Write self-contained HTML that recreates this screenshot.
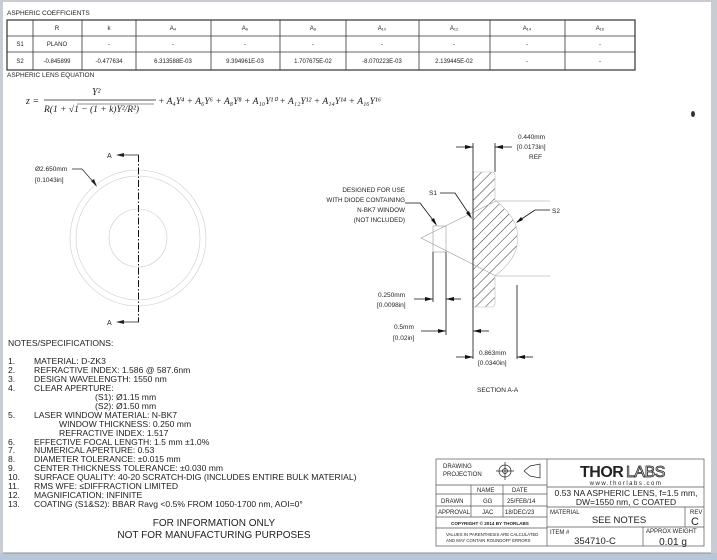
<!DOCTYPE html>
<html><head><meta charset="utf-8"><style>
html,body{margin:0;padding:0;background:#fff;}
svg{display:block;}
text{font-family:"Liberation Sans",sans-serif;fill:#222;}
.s{font-size:6px;}
.m{font-family:"Liberation Serif",serif;font-style:italic;font-size:10px;}
.n{font-size:8.6px;}
</style></head><body>
<svg width="717" height="560" viewBox="0 0 717 560" xmlns="http://www.w3.org/2000/svg">
<rect x="0" y="0" width="717" height="560" fill="#c9ccd2"/>
<rect x="3" y="2" width="708" height="551" fill="#fff"/>
<rect x="0" y="553" width="717" height="7" fill="#b9c6d8"/>
<line x1="3" y1="553" x2="711" y2="553" stroke="#8a8f99"/>
<!-- table -->
<text x="7" y="15" class="s" style="font-size:6.5px">ASPHERIC COEFFICIENTS</text>
<g stroke="#333" stroke-width="0.8" fill="none">
<rect x="7" y="20" width="628" height="50" stroke-width="1.2"/>
<line x1="7" y1="36" x2="635" y2="36"/><line x1="7" y1="52" x2="635" y2="52"/>
<line x1="33" y1="20" x2="33" y2="70"/><line x1="82" y1="20" x2="82" y2="70"/>
<line x1="136" y1="20" x2="136" y2="70"/><line x1="211" y1="20" x2="211" y2="70"/>
<line x1="280" y1="20" x2="280" y2="70"/><line x1="346" y1="20" x2="346" y2="70"/>
<line x1="419" y1="20" x2="419" y2="70"/><line x1="490" y1="20" x2="490" y2="70"/>
<line x1="565" y1="20" x2="565" y2="70"/>
</g>
<g class="s" text-anchor="middle" style="font-size:6px">
<text x="57" y="30">R</text><text x="109" y="30">k</text><text x="173" y="30">A₄</text><text x="245" y="30">A₆</text><text x="313" y="30">A₈</text><text x="382" y="30">A₁₀</text><text x="454" y="30">A₁₂</text><text x="527" y="30">A₁₄</text><text x="600" y="30">A₁₆</text>
<text x="20" y="46">S1</text><text x="57" y="46">PLANO</text><text x="109" y="46">-</text><text x="173" y="46">-</text><text x="245" y="46">-</text><text x="313" y="46">-</text><text x="382" y="46">-</text><text x="454" y="46">-</text><text x="527" y="46">-</text><text x="600" y="46">-</text>
<text x="20" y="63">S2</text><text x="57" y="63">-0.845899</text><text x="109" y="63">-0.477634</text><text x="173" y="63">6.313588E-03</text><text x="245" y="63">9.394961E-03</text><text x="313" y="63">1.707675E-02</text><text x="382" y="63">-8.070223E-03</text><text x="454" y="63">2.139445E-02</text><text x="527" y="63">-</text><text x="600" y="63">-</text>
</g>
<text x="7" y="77" class="s" style="font-size:6.5px">ASPHERIC LENS EQUATION</text>
<text x="26" y="104" class="m">z =</text>
<text x="92" y="95" class="m">Y²</text>
<line x1="44" y1="100" x2="156" y2="100" stroke="#222" stroke-width="0.7"/>
<text x="44" y="112" class="m" style="font-size:9.5px">R(1 + √1 − (1 + k)Y²/R²)</text>
<line x1="77" y1="104" x2="154" y2="104" stroke="#222" stroke-width="0.5"/>
<text x="158" y="104" class="m" style="font-size:9.5px">+ A₄Y⁴ + A₆Y⁶ + A₈Y⁸ + A₁₀Y¹⁰ + A₁₂Y¹² + A₁₄Y¹⁴ + A₁₆Y¹⁶</text>
<ellipse cx="693" cy="114" rx="2" ry="3" fill="#333"/>
<!-- front view -->
<g fill="none" stroke="#ccc" stroke-width="0.6">
<circle cx="138" cy="238" r="68"/><circle cx="138" cy="238" r="62"/><circle cx="138" cy="238" r="29"/>
</g>
<path d="M138.5,155 V322" stroke="#111" stroke-width="1" fill="none" stroke-dasharray="7,2,1.5,2"/>
<g stroke="#222" stroke-width="0.8"><line x1="122" y1="155" x2="139" y2="155"/><line x1="122" y1="322" x2="139" y2="322"/></g>
<polygon points="116,155 124,153 124,157" fill="#222"/><polygon points="116,322 124,320 124,324" fill="#222"/>
<text x="107" y="158" class="s" style="font-size:7px">A</text><text x="107" y="325" class="s" style="font-size:7px">A</text>
<text x="35" y="171" class="s" style="font-size:6.5px">Ø2.650mm</text><text x="35" y="182" class="s" style="font-size:6.5px">[0.1043in]</text>
<polyline points="72,169 82,169 96,185" fill="none" stroke="#222" stroke-width="0.7"/>
<polygon points="97,187 91,181 94,179" fill="#222"/>
<!-- section -->
<defs><pattern id="h" width="7" height="7" patternUnits="userSpaceOnUse" patternTransform="rotate(45)"><line x1="0" y1="0" x2="0" y2="7" stroke="#333" stroke-width="1"/></pattern></defs>
<path d="M473,172 L492,172 Q495,172 495,176 L495,200 Q520,220 517,238 Q520,256 495,276 L495,303 Q495,307 492,307 L473,307 Z" fill="url(#h)" stroke="#bbb" stroke-width="0.6"/>
<g fill="none" stroke="#999" stroke-width="0.6">
<rect x="433" y="226" width="13" height="26"/>
<polyline points="550,201 496,201 421,238 496,276 550,276"/>
</g>
<g stroke="#111" stroke-width="0.8" fill="none">
<line x1="473" y1="143" x2="473" y2="359"/><line x1="495" y1="143" x2="495" y2="172"/>
<line x1="433" y1="252" x2="433" y2="302"/><line x1="446" y1="252" x2="446" y2="335"/>
<line x1="517" y1="285" x2="517" y2="359"/>
<line x1="456" y1="147" x2="473" y2="147"/><line x1="495" y1="147" x2="512" y2="147"/>
<line x1="414" y1="299" x2="433" y2="299"/><line x1="446" y1="299" x2="461" y2="299"/>
<line x1="421" y1="331" x2="446" y2="331"/><line x1="473" y1="331" x2="489" y2="331"/>
<line x1="456" y1="357" x2="473" y2="357"/><line x1="517" y1="357" x2="533" y2="357"/>
<polyline points="440,193 455,193 471,217"/><polyline points="550,210 535,210 517,222"/>
<polyline points="405,203 420,203 436,224"/>
</g>
<g fill="#111">
<polygon points="473,147 465,145 465,149"/><polygon points="495,147 503,145 503,149"/>
<polygon points="433,299 425,297 425,301"/><polygon points="446,299 454,297 454,301"/>
<polygon points="446,331 438,329 438,333"/><polygon points="473,331 481,329 481,333"/>
<polygon points="473,357 465,355 465,359"/><polygon points="517,357 525,355 525,359"/>
<polygon points="472,219 466,213 469,211"/><polygon points="516,223 521,217 523,220"/>
<polygon points="437,226 431,220 434,218"/>
</g>
<g class="s" style="font-size:6.5px">
<text x="518" y="139">0.440mm</text><text x="517" y="149">[0.0173in]</text><text x="529" y="159">REF</text>
<text x="429" y="195">S1</text><text x="552" y="213">S2</text>
<text x="378" y="297">0.250mm</text><text x="377" y="307">[0.0098in]</text>
<text x="394" y="329">0.5mm</text><text x="393" y="340">[0.02in]</text>
<text x="479" y="355">0.863mm</text><text x="478" y="365">[0.0340in]</text>
<text x="477" y="392">SECTION A-A</text>
</g>
<g class="s" style="font-size:6.3px" text-anchor="end">
<text x="405" y="192">DESIGNED FOR USE</text><text x="405" y="202">WITH DIODE CONTAINING</text><text x="405" y="212">N-BK7 WINDOW</text><text x="405" y="222">(NOT INCLUDED)</text>
</g>
<!-- notes -->
<text x="8" y="346" class="n">NOTES/SPECIFICATIONS:</text>
<g class="n">
<text x="8" y="364">1.</text><text x="34" y="364">MATERIAL: D-ZK3</text>
<text x="8" y="373">2.</text><text x="34" y="373">REFRACTIVE INDEX: 1.586 @ 587.6nm</text>
<text x="8" y="382">3.</text><text x="34" y="382">DESIGN WAVELENGTH: 1550 nm</text>
<text x="8" y="391">4.</text><text x="34" y="391">CLEAR APERTURE:</text>
<text x="95" y="400">(S1): Ø1.15 mm</text><text x="95" y="409">(S2): Ø1.50 mm</text>
<text x="8" y="418">5.</text><text x="34" y="418">LASER WINDOW MATERIAL: N-BK7</text>
<text x="59" y="427">WINDOW THICKNESS: 0.250 mm</text><text x="59" y="436">REFRACTIVE INDEX: 1.517</text>
<text x="8" y="445">6.</text><text x="34" y="445">EFFECTIVE FOCAL LENGTH: 1.5 mm ±1.0%</text>
<text x="8" y="453">7.</text><text x="34" y="453">NUMERICAL APERTURE: 0.53</text>
<text x="8" y="462">8.</text><text x="34" y="462">DIAMETER TOLERANCE: ±0.015 mm</text>
<text x="8" y="471">9.</text><text x="34" y="471">CENTER THICKNESS TOLERANCE: ±0.030 mm</text>
<text x="8" y="480">10.</text><text x="34" y="480">SURFACE QUALITY: 40-20 SCRATCH-DIG (INCLUDES ENTIRE BULK MATERIAL)</text>
<text x="8" y="489">11.</text><text x="34" y="489">RMS WFE: ≤DIFFRACTION LIMITED</text>
<text x="8" y="498">12.</text><text x="34" y="498">MAGNIFICATION: INFINITE</text>
<text x="8" y="507">13.</text><text x="34" y="507">COATING (S1&amp;S2): BBAR Ravg &lt;0.5% FROM 1050-1700 nm, AOI=0°</text>
</g>
<g text-anchor="middle" style="font-size:10px"><text x="214" y="526">FOR INFORMATION ONLY</text><text x="214" y="538">NOT FOR MANUFACTURING PURPOSES</text></g>
<!-- title block -->
<g stroke="#555" stroke-width="0.7" fill="none">
<rect x="436" y="459" width="268" height="87"/>
<line x1="547" y1="459" x2="547" y2="546"/>
<line x1="436" y1="485" x2="547" y2="485"/><line x1="436" y1="494" x2="547" y2="494"/>
<line x1="436" y1="506" x2="547" y2="506"/><line x1="436" y1="517" x2="547" y2="517"/>
<line x1="436" y1="528" x2="547" y2="528"/>
<line x1="471" y1="485" x2="471" y2="517"/><line x1="503" y1="485" x2="503" y2="517"/>
<line x1="547" y1="487" x2="704" y2="487"/><line x1="547" y1="507" x2="704" y2="507"/>
<line x1="547" y1="527" x2="704" y2="527"/>
<line x1="685" y1="507" x2="685" y2="527"/><line x1="643" y1="527" x2="643" y2="546"/>
<circle cx="505" cy="471" r="6" stroke="#222"/><circle cx="505" cy="471" r="2.5" stroke="#222"/>
<line x1="496" y1="471" x2="514" y2="471" stroke="#222"/><line x1="505" y1="462" x2="505" y2="480" stroke="#222"/>
<polygon points="524,471 530,466 540,464 540,478 530,476" stroke="#222"/>
</g>
<g class="s" style="font-size:6px">
<text x="443" y="468">DRAWING</text><text x="443" y="476">PROJECTION</text>
<text x="477" y="492">NAME</text><text x="512" y="492">DATE</text>
<text x="441" y="503">DRAWN</text><text x="483" y="503">GG</text><text x="507" y="503">25/FEB/14</text>
<text x="438" y="514">APPROVAL</text><text x="482" y="514">JAC</text><text x="505" y="514">18/DEC/23</text>
<text x="451" y="525" style="font-size:4.6px;font-weight:bold">COPYRIGHT © 2014 BY THORLABS</text>
<text x="446" y="536" style="font-size:4.3px">VALUES IN PARENTHESIS ARE CALCULATED</text>
<text x="446" y="542" style="font-size:4.3px">AND MAY CONTAIN ROUNDOFF ERRORS</text>
<text x="550" y="514">MATERIAL</text><text x="690" y="514">REV</text>
<text x="550" y="534">ITEM #</text><text x="646" y="533">APPROX WEIGHT</text>
</g>
<text x="580" y="477" style="font-size:16px;font-weight:bold;letter-spacing:-0.5px">THOR</text>
<text x="626" y="477" style="font-size:16px;fill:#fff;stroke:#222;stroke-width:0.8;letter-spacing:-0.5px">LABS</text>
<text x="626" y="485" text-anchor="middle" style="font-size:6px;letter-spacing:1.5px">www.thorlabs.com</text>
<g text-anchor="middle" style="font-size:8.5px">
<text x="626" y="496">0.53 NA ASPHERIC LENS, f=1.5 mm,</text>
<text x="626" y="505">DW=1550 nm, C COATED</text>
<text x="619" y="523" style="font-size:9.5px">SEE NOTES</text>
<text x="695" y="525" style="font-size:11px">C</text>
<text x="595" y="544" style="font-size:9.5px">354710-C</text>
<text x="673" y="545" style="font-size:10px">0.01 g</text>
</g>
</svg>
</body></html>
